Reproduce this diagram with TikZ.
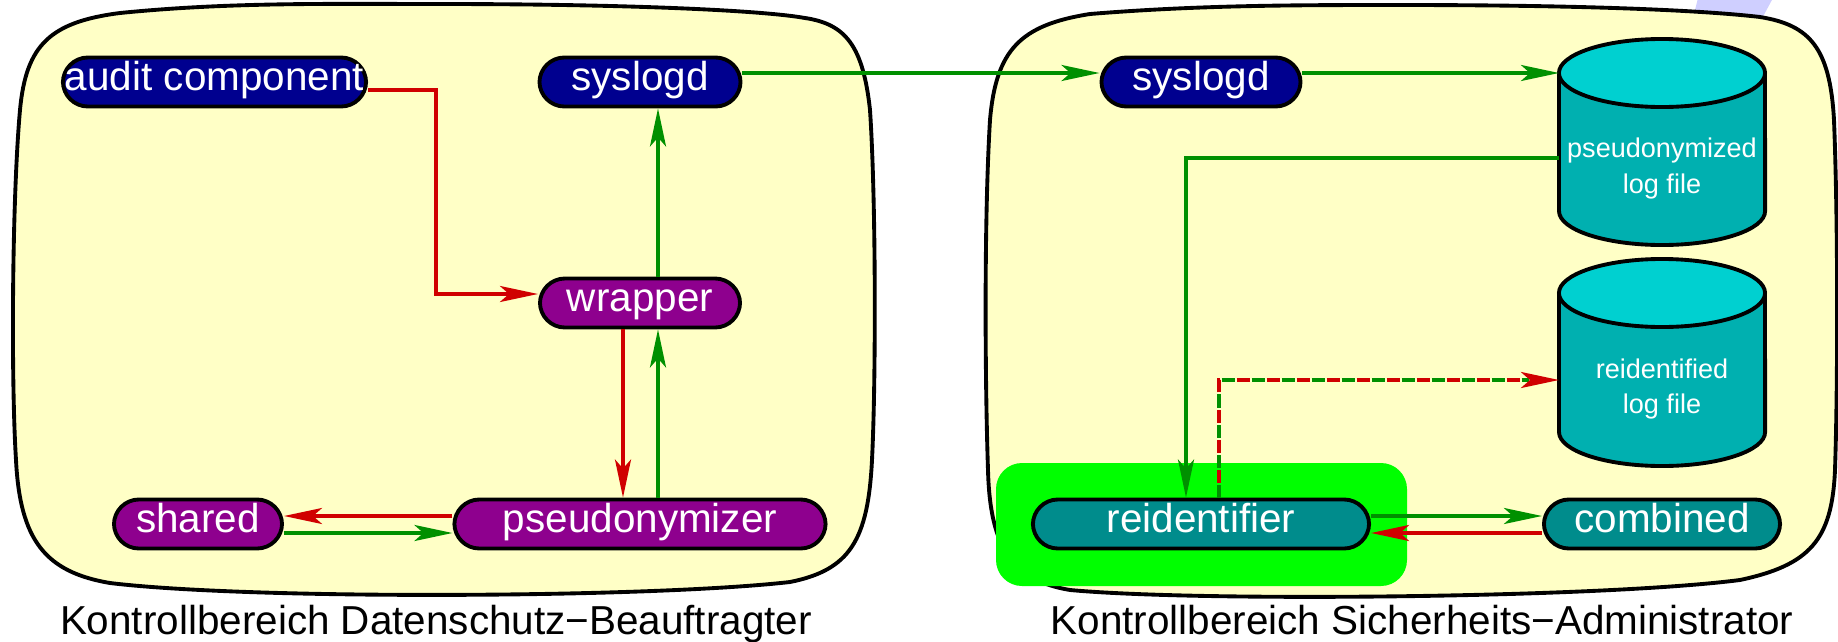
\documentclass[tikz,border=0pt]{standalone}
\usepackage{fontspec}
\setmainfont{Liberation Sans}
\usetikzlibrary{arrows.meta,calc}

\definecolor{regionfill}{HTML}{FFFFC6}
\definecolor{navyfill}{HTML}{00008F}
\definecolor{purplefill}{HTML}{8E008E}
\definecolor{tealfill}{HTML}{008C8C}
\definecolor{drumbody}{HTML}{00B0B0}
\definecolor{drumtop}{HTML}{00D0D0}
\definecolor{flowgreen}{HTML}{009000}
\definecolor{flowred}{HTML}{D00000}
\definecolor{hilite}{HTML}{00FF00}
\definecolor{lavender}{HTML}{CFCFFF}

\tikzset{
  region/.style={draw=black, line width=1.1pt, fill=regionfill},
  proc/.style={draw=black, line width=1.1pt, rounded corners=0.25cm,
    minimum height=0.49cm, inner sep=0pt, text=white,
    font=\fontsize{11.5pt}{13pt}\selectfont, text height=8pt, text depth=2.9pt},
  navyproc/.style={proc, fill=navyfill},
  purpleproc/.style={proc, fill=purplefill},
  tealproc/.style={proc, fill=tealfill},
  drumline/.style={draw=black, line width=1.1pt},
  drumtext/.style={text=white, align=center, inner sep=0pt,
    font=\fontsize{7.7pt}{10pt}\selectfont},
  caption/.style={anchor=base, inner sep=0pt, font=\fontsize{11.5pt}{13pt}\selectfont},
  flow/.style={line width=1pt, -{Stealth[length=0.38cm, width=0.16cm, inset=0.09cm]}},
  gflow/.style={flow, flowgreen},
  rflow/.style={flow, flowred},
  twotone/.style={dash pattern=on 0.13cm off 0.17cm},
}

\begin{document}
\begin{tikzpicture}[x=0.01cm, y=-0.01cm]
\useasboundingbox (0,0) rectangle (1838,642);

% pale band behind the right area
\fill[lavender] (1698,-2) -- (1773,-2) -- (1745,50) -- (1685,50) -- cycle;

% the two areas of control
\draw[region] (440,4) .. controls (620,4) and (760,10) .. (805,18)
  .. controls (845,24) and (863,45) .. (870,110)
  .. controls (876,200) and (876,380) .. (872,460)
  .. controls (868,540) and (850,570) .. (790,582)
  .. controls (650,598) and (250,600) .. (110,583)
  .. controls (45,572) and (20,540) .. (16,460)
  .. controls (11,380) and (12,200) .. (20,110)
  .. controls (26,45) and (50,22) .. (120,13)
  .. controls (230,2) and (330,4) .. (440,4) -- cycle;
\draw[region] (1400,5) .. controls (1580,5) and (1700,10) .. (1760,17)
  .. controls (1810,25) and (1830,48) .. (1834,120)
  .. controls (1838,220) and (1838,380) .. (1835,470)
  .. controls (1832,540) and (1810,565) .. (1740,580)
  .. controls (1600,598) and (1200,602) .. (1070,590)
  .. controls (1010,580) and (990,545) .. (988,470)
  .. controls (985,380) and (984,220) .. (990,120)
  .. controls (996,50) and (1020,25) .. (1090,14)
  .. controls (1200,5) and (1300,5) .. (1400,5) -- cycle;

\node[caption] (capL) at (436,634) {Kontrollbereich Datenschutz−Beauftragter};
\node[caption] (capR) at (1422,634) {Kontrollbereich Sicherheits−Administrator};

% highlight behind the reidentifier
\fill[hilite, rounded corners=0.26cm] (996,463) rectangle (1407,586);

% log file drums
\fill[drumbody] (1559,73) -- (1559,211)
  arc[start angle=180, end angle=360, x radius=1.03cm, y radius=0.34cm] -- (1765,73) -- cycle;
\draw[drumline] (1559,73) -- (1559,211)
  arc[start angle=180, end angle=360, x radius=1.03cm, y radius=0.34cm] -- (1765,73);
\draw[drumline, fill=drumtop] (1662,73) ellipse [x radius=1.03cm, y radius=0.34cm];
\node[drumtext] (plog) at (1662,168.5) {pseudonymized\\log file};
\coordinate (plogin) at (1559,73);
\coordinate (plogout) at (1559,158);

\fill[drumbody] (1559,293) -- (1559,432)
  arc[start angle=180, end angle=360, x radius=1.03cm, y radius=0.34cm] -- (1765,293) -- cycle;
\draw[drumline] (1559,293) -- (1559,432)
  arc[start angle=180, end angle=360, x radius=1.03cm, y radius=0.34cm] -- (1765,293);
\draw[drumline, fill=drumtop] (1662,293) ellipse [x radius=1.03cm, y radius=0.34cm];
\node[drumtext] (rlog) at (1662,388.6) {reidentified\\log file};
\coordinate (rlogin) at (1559,380);

% processes
\node[navyproc, minimum width=3.03cm] (audit) at (214.5,82) {audit component};
\node[navyproc, minimum width=2.01cm] (sysL) at (640,82) {syslogd};
\node[purpleproc, minimum width=2.00cm] (wrapper) at (640,303) {wrapper};
\node[purpleproc, minimum width=1.68cm] (shared) at (198,524) {shared};
\node[purpleproc, minimum width=3.71cm] (pseudo) at (640,524) {pseudonymizer};
\node[navyproc, minimum width=1.99cm] (sysR) at (1201,82) {syslogd};
\node[tealproc, minimum width=3.36cm] (reid) at (1201,524) {reidentifier};
\node[tealproc, minimum width=2.36cm] (comb) at (1662,524) {combined};

% data flows
\draw[rflow] ($(audit.east)+(0,8)$) -- ++(68,0) |- ($(wrapper.west)+(0,-9)$);
\draw[rflow] ($(wrapper.south)+(-17,0)$) -- ($(pseudo.north)+(-17,0)$);
\draw[gflow] ($(pseudo.north)+(18,0)$) -- ($(wrapper.south)+(18,0)$);
\draw[gflow] ($(wrapper.north)+(18,0)$) -- ($(sysL.south)+(18,0)$);
\draw[rflow] ($(pseudo.west)+(0,-8)$) -- ($(shared.east)+(0,-8)$);
\draw[gflow] ($(shared.east)+(0,9)$) -- ($(pseudo.west)+(0,9)$);
\draw[gflow] ($(sysL.east)+(0,-9)$) -- ($(sysR.west)+(0,-9)$);
\draw[gflow] ($(sysR.east)+(0,-9)$) -- (plogin);
\draw[gflow] (plogout) -| ($(reid.north)+(-15,0)$);
\draw[flowgreen, line width=1pt, twotone, shorten >=0.3cm]
  ($(reid.north)+(18,0)$) |- (rlogin);
\draw[rflow, twotone, dash phase=0.15cm]
  ($(reid.north)+(18,0)$) |- (rlogin);
\draw[gflow] ($(reid.east)+(0,-8)$) -- ($(comb.west)+(0,-8)$);
\draw[rflow] ($(comb.west)+(0,9)$) -- ($(reid.east)+(0,9)$);
\end{tikzpicture}
\end{document}
